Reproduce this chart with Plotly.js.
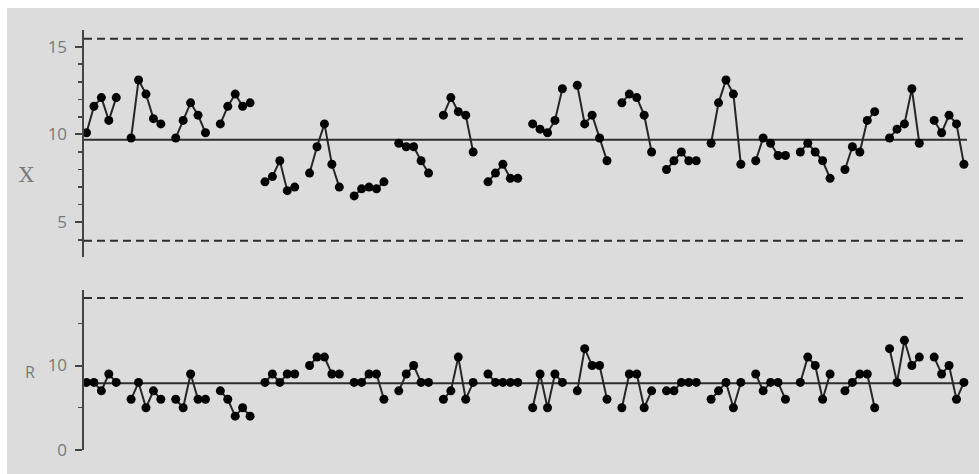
<!DOCTYPE html>
<html>
<head>
<meta charset="utf-8">
<script src="https://cdn.plot.ly/plotly-3.0.1.min.js"></script>
<style>
html,body{margin:0;padding:0;background:#ffffff;width:979px;height:474px;overflow:hidden;}
#chart{position:absolute;left:7px;top:8px;width:972px;height:466px;}
</style>
</head>
<body>
<div id="chart"></div>
<script>
// Subgroup size
const subgroupSize = 5;

// X-bar chart values (20 groups of 5)
const xbarValues = [
  10.1, 11.6, 12.1, 10.8, 12.1,
  9.8, 13.1, 12.3, 10.9, 10.6,
  9.8, 10.8, 11.8, 11.1, 10.1,
  10.6, 11.6, 12.3, 11.6, 11.8,
  7.3, 7.6, 8.5, 6.8, 7.0,
  7.8, 9.3, 10.6, 8.3, 7.0,
  6.5, 6.9, 7.0, 6.9, 7.3,
  9.5, 9.3, 9.3, 8.5, 7.8,
  11.1, 12.1, 11.3, 11.1, 9.0,
  7.3, 7.8, 8.3, 7.5, 7.5,
  10.6, 10.3, 10.1, 10.8, 12.6,
  12.8, 10.6, 11.1, 9.8, 8.5,
  11.8, 12.3, 12.1, 11.1, 9.0,
  8.0, 8.5, 9.0, 8.5, 8.5,
  9.5, 11.8, 13.1, 12.3, 8.3,
  8.5, 9.8, 9.5, 8.8, 8.8,
  9.0, 9.5, 9.0, 8.5, 7.5,
  8.0, 9.3, 9.0, 10.8, 11.3,
  9.8, 10.3, 10.6, 12.6, 9.5,
  10.8, 10.1, 11.1, 10.6, 8.3
];

// R chart values
const rangeValues = [
  8, 8, 7, 9, 8,
  6, 8, 5, 7, 6,
  6, 5, 9, 6, 6,
  7, 6, 4, 5, 4,
  8, 9, 8, 9, 9,
  10, 11, 11, 9, 9,
  8, 8, 9, 9, 6,
  7, 9, 10, 8, 8,
  6, 7, 11, 6, 8,
  9, 8, 8, 8, 8,
  5, 9, 5, 9, 8,
  7, 12, 10, 10, 6,
  5, 9, 9, 5, 7,
  7, 7, 8, 8, 8,
  6, 7, 8, 5, 8,
  9, 7, 8, 8, 6,
  8, 11, 10, 6, 9,
  7, 8, 9, 9, 5,
  12, 8, 13, 10, 11,
  11, 9, 10, 6, 8
];

// Control limits: [LCL, CL, UCL] and [CL, UCL]
const xbarLimits = [3.95, 9.7, 15.45];
const rLimits = [7.9, 18.0];

// Axis labels
const xbarLabel = "X";
const rLabel = "R";

function gapped(values) {
  const xs = [], ys = [];
  const nGroups = Math.ceil(values.length / subgroupSize);
  for (let g = 0; g < nGroups; g++) {
    for (let i = 0; i < subgroupSize; i++) {
      const k = g * subgroupSize + i;
      if (k >= values.length) break;
      xs.push(g * (subgroupSize + 1) + i);
      ys.push(values[k]);
    }
    if (g < nGroups - 1) {
      xs.push(g * (subgroupSize + 1) + subgroupSize);
      ys.push(null);
    }
  }
  return {xs, ys};
}

const xbarSeries = gapped(xbarValues);
const rSeries = gapped(rangeValues);

const markerStyle = {color: '#000000', size: 9};
const lineStyle = {color: '#262626', width: 2};

const traces = [
  {x: xbarSeries.xs, y: xbarSeries.ys, type: 'scatter', mode: 'lines+markers', xaxis: 'x', yaxis: 'y',
   marker: markerStyle, line: lineStyle, connectgaps: false, hoverinfo: 'skip'},
  {x: rSeries.xs, y: rSeries.ys, type: 'scatter', mode: 'lines+markers', xaxis: 'x', yaxis: 'y2',
   marker: markerStyle, line: lineStyle, connectgaps: false, hoverinfo: 'skip'}
];

function hline(yref, v, dashed) {
  return {type: 'line', xref: 'x domain', yref: yref, x0: 0, x1: 0.991, y0: v, y1: v,
          line: {color: '#2e2e2e', width: 2, dash: dashed ? '8px,5px' : 'solid'}, layer: 'below'};
}

const shapes = [
  hline('y', xbarLimits[0], true),
  hline('y', xbarLimits[1], false),
  hline('y', xbarLimits[2], true),
  hline('y2', rLimits[0], false),
  hline('y2', rLimits[1], true)
];

const axisCommon = {
  showgrid: false, zeroline: false, showline: true, linecolor: '#444444', linewidth: 2.5,
  ticks: 'outside', ticklen: 7, tickwidth: 2, tickcolor: '#444444',
  tickfont: {family: 'Open Sans, Noto Sans, sans-serif', size: 17, color: '#7a7a7a'},
  ticklabelstandoff: 4, fixedrange: true
};

const layout = {
  width: 972, height: 466,
  margin: {l: 76.5, r: 4, t: 0, b: 0, pad: 0},
  paper_bgcolor: '#dcdcdc', plot_bgcolor: '#dcdcdc',
  showlegend: false,
  xaxis: {range: [-0.336, 119.49], showgrid: false, zeroline: false, showline: false,
          showticklabels: false, ticks: '', fixedrange: true},
  yaxis: Object.assign({}, axisCommon, {
    domain: [0.4657, 0.9528], range: [3.02, 15.95], dtick: 5, tick0: 0,
    minor: {dtick: 1, tick0: 0, ticks: 'outside', ticklen: 4, tickwidth: 1.5, tickcolor: '#444444', showgrid: false}
  }),
  yaxis2: Object.assign({}, axisCommon, {
    domain: [0.0515, 0.3948], range: [-0.01, 18.95], dtick: 10, tick0: 0,
    minor: {dtick: 5, tick0: 0, ticks: 'outside', ticklen: 4, tickwidth: 1.5, tickcolor: '#444444', showgrid: false}
  }),
  shapes: shapes,
  annotations: [
    {text: xbarLabel, xref: 'paper', yref: 'paper', x: -0.0645, y: 0.6416, showarrow: false,
     xanchor: 'center', yanchor: 'middle',
     font: {family: 'DejaVu Serif, Liberation Serif, serif', size: 21, color: '#7a7a7a'}},
    {text: rLabel, xref: 'paper', yref: 'paper', x: -0.0608, y: 0.2195, showarrow: false,
     xanchor: 'center', yanchor: 'middle',
     font: {family: 'Open Sans, Noto Sans, sans-serif', size: 16, color: '#7a7a7a'}}
  ]
};

Plotly.newPlot('chart', traces, layout, {displayModeBar: false, staticPlot: true});
</script>
</body>
</html>
